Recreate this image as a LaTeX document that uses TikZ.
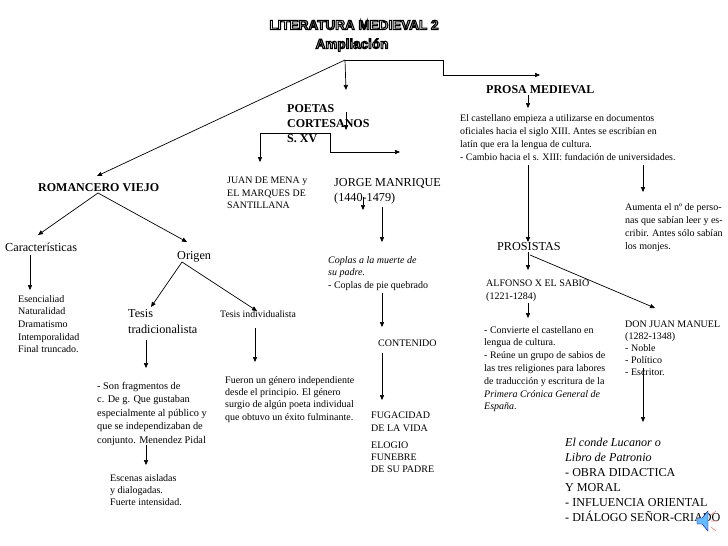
\documentclass[tikz,border=0pt]{standalone}
\usepackage{fontspec}
\setmainfont{Liberation Serif}
\newfontfamily\titlefont{Liberation Sans}
\usetikzlibrary{arrows.meta,calc}
\newcommand{\olw}[1]{\special{pdf:literal direct 1 g 0 G 1.1 w 2 Tr}#1\special{pdf:literal direct 0 g 0 Tr}}
\newcommand{\olg}[1]{\special{pdf:literal direct 0.72 g 0 G 1.1 w 2 Tr}#1\special{pdf:literal direct 0 g 0 Tr}}
\begin{document}
\begin{tikzpicture}[x=1pt,y=-1pt,
  arr/.style={-{Triangle[length=5pt,width=4.2pt]}, line width=0.7pt},
  txt/.style={anchor=north west, inner sep=0pt, align=left, font=\fontsize{10}{12.6}\selectfont},
  big/.style={anchor=north west, inner sep=0pt, align=left, font=\fontsize{12.2}{15}\selectfont},
  bigb/.style={big, font=\fontsize{12}{15}\selectfont\bfseries},
  ttl/.style={inner sep=0pt, font=\titlefont\bfseries\fontsize{13.5}{15}\selectfont}]
\useasboundingbox (0,0) rectangle (728,546);

% title
\node[ttl] (title) at (354,25) {\olw{LITE}\olg{RATU}\olw{RA }\olg{M}\olw{EDIEVAL 2}};
\node[ttl] (ampl) at (352,45) {\olw{Am}\olg{pli}\olw{ación}};

% texts
\node[bigb] (poetas) at (287,104) {POETAS\\CORTESANOS\\S. XV};
\node[bigb] (prosa) at (486,85) {PROSA MEDIEVAL};
\node[txt, font=\fontsize{9.9}{13}\selectfont] (prosapar) at (460,114) {El castellano empieza a utilizarse en documentos\\oficiales hacia el siglo XIII. Antes se escribían en\\latín que era la lengua de cultura.\\- Cambio hacia el s. XIII: fundación de universidades.};
\node[txt, font=\fontsize{9.9}{12.5}\selectfont] (juan) at (227,177) {JUAN DE MENA y\\EL MARQUES DE\\SANTILLANA};
\node[big] (jorge) at (334,178) {JORGE MANRIQUE\\(1440-1479)};
\node[bigb] (romancero) at (38,183) {ROMANCERO VIEJO};
\node[txt, font=\fontsize{10}{13}\selectfont] (aumenta) at (625,203) {Aumenta el nº de perso-\\nas que sabían leer y es-\\cribir. Antes sólo sabían\\los monjes.};
\node[big] (prosistas) at (497,242) {PROSISTAS};
\node[big] (carac) at (5,243) {Características};
\node[big] (origen) at (177,251) {Origen};
\node[txt, font=\fontsize{10}{12.5}\selectfont] (coplas) at (328,256) {\textit{Coplas a la muerte de}\\\textit{su padre.}\\- Coplas de pie quebrado};
\node[txt, font=\fontsize{10}{13}\selectfont] (alfonso) at (486,280) {ALFONSO X EL SABIO\\(1221-1284)};
\node[txt, font=\fontsize{10}{12.7}\selectfont] (esen) at (18,295) {Esencialiad\\Naturalidad\\Dramatismo\\Intemporalidad\\Final truncado.};
\node[big, font=\fontsize{12.2}{16}\selectfont] (tesist) at (128,309) {Tesis\\tradicionalista};
\node[txt, font=\fontsize{9.8}{12}\selectfont] (tesisi) at (220,310) {Tesis individualista};
\node[txt] (contenido) at (378,340) {CONTENIDO};
\node[txt, font=\fontsize{10}{12.8}\selectfont] (convierte) at (484,326) {- Convierte el castellano en\\lengua de cultura.\\- Reúne un grupo de sabios de\\las tres religiones para labores\\de traducción y escritura de la\\\textit{Primera Crónica General de}\\\textit{España}.};
\node[txt, font=\fontsize{10}{12}\selectfont] (donjuan) at (625,321) {DON JUAN MANUEL\\(1282-1348)\\- Noble\\- Político\\- Escritor.};
\node[txt, font=\fontsize{10.3}{13.5}\selectfont] (son) at (97,382) {- Son fragmentos de\\c. De g. Que gustaban\\especialmente al público y\\que se independizaban de\\conjunto. Menendez Pidal};
\node[txt, font=\fontsize{10}{12.3}\selectfont] (fueron) at (225,376) {Fueron un género independiente\\desde el principio. El género\\surgio de algún poeta individual\\que obtuvo un éxito fulminante.};
\node[txt, font=\fontsize{10}{12.5}\selectfont] (fugacidad) at (371,412) {FUGACIDAD\\DE LA VIDA};
\node[txt, font=\fontsize{10}{12}\selectfont] (elogio) at (371,442) {ELOGIO\\FUNEBRE\\DE SU PADRE};
\node[big, font=\fontsize{12.1}{15}\selectfont] (conde) at (565,438) {\textit{El conde Lucanor o}\\\textit{Libro de Patronio}\\- OBRA DIDACTICA\\Y MORAL\\- INFLUENCIA ORIENTAL\\- DIÁLOGO SEÑOR-CRIADO};
\node[txt, font=\fontsize{10}{12}\selectfont] (escenas) at (110,474) {Escenas aisladas\\y dialogadas.\\Fuerte intensidad.};

% connector points
\coordinate (hub) at (345,60);
\coordinate (h1) at (443,60);
\coordinate (h2) at (443,75);
\coordinate (prosaIn) at (540,75);
\coordinate (poetasIn) at (346,90);
\coordinate (romIn) at (97,176);
\coordinate (pa1) at (346,112);
\coordinate (pa2) at (346,130);
\coordinate (br) at (330,133);
\coordinate (bl) at (260,133);
\coordinate (juanIn) at (260,162);
\coordinate (br2) at (330,152);
\coordinate (jorgeIn) at (400,152);
\coordinate (pr1) at (528,95);
\coordinate (pr2) at (528,108);
\coordinate (pp1) at (528,165);
\coordinate (prosistasIn) at (528,242);
\coordinate (pp2) at (643,165);
\coordinate (aumentaIn) at (643,192);
\coordinate (ps1) at (528,252);
\coordinate (alfonsoIn) at (528,270);
\coordinate (ps2) at (530,255);
\coordinate (donjuanIn) at (655,308);
\coordinate (al1) at (528,303);
\coordinate (convIn) at (528,318);
\coordinate (dj1) at (643,368);
\coordinate (condeIn) at (643,422);
\coordinate (jm1) at (363,197);
\coordinate (jm2) at (363,210);
\coordinate (jm3) at (382,207);
\coordinate (coplasIn) at (382,242);
\coordinate (cp1) at (382,293);
\coordinate (contIn) at (382,327);
\coordinate (ct1) at (382,353);
\coordinate (fugIn) at (382,400);
\coordinate (rv) at (98,193);
\coordinate (caracIn) at (38,235);
\coordinate (origenIn) at (187,242);
\coordinate (ca1) at (30,255);
\coordinate (esenIn) at (30,290);
\coordinate (og) at (182,262);
\coordinate (tesistIn) at (151,307);
\coordinate (tesisiIn) at (257,311);
\coordinate (tt1) at (146,340);
\coordinate (sonIn) at (146,368);
\coordinate (ti1) at (255,328);
\coordinate (fueronIn) at (255,362);
\coordinate (sn1) at (146,445);
\coordinate (escIn) at (146,465);

% connectors
\draw[arr] (hub) -- (h1) -- (h2) -- (prosaIn);
\draw[arr] (hub) -- (poetasIn);
\draw[arr] (hub) -- (romIn);
\draw[arr] (pa1) -- (pa2);
\draw[arr] (br) -- (bl) -- (juanIn);
\draw[arr] (br) -- (br2) -- (jorgeIn);
\draw[arr] (pr1) -- (pr2);
\draw[arr] (pp1) -- (prosistasIn);
\draw[arr] (pp2) -- (aumentaIn);
\draw[arr] (ps1) -- (alfonsoIn);
\draw[arr] (ps2) -- (donjuanIn);
\draw[arr] (al1) -- (convIn);
\draw[arr] (dj1) -- (condeIn);
\draw[arr] (jm1) -- (jm2);
\draw[arr] (jm3) -- (coplasIn);
\draw[arr] (cp1) -- (contIn);
\draw[arr] (ct1) -- (fugIn);
\draw[arr] (rv) -- (caracIn);
\draw[arr] (rv) -- (origenIn);
\draw[arr] (ca1) -- (esenIn);
\draw[arr] (og) -- (tesistIn);
\draw[arr] (og) -- (tesisiIn);
\draw[arr] (tt1) -- (sonIn);
\draw[arr] (ti1) -- (fueronIn);
\draw[arr] (sn1) -- (escIn);

% sound icon
\coordinate (spk) at (703,521);
\fill[blue!45!cyan!60, draw=blue!60!black, line width=0.4pt] ($(spk)+(-6,-3)$) -- ($(spk)+(-1,-3)$) -- ($(spk)+(5,-10)$) -- ($(spk)+(5,10)$) -- ($(spk)+(-1,3)$) -- ($(spk)+(-6,3)$) -- cycle;
\draw[red!50, line width=0.6pt] ($(spk)+(8,-6)$) -- ($(spk)+(13,-10)$) ($(spk)+(8,0)$) -- ($(spk)+(14,0)$) ($(spk)+(8,6)$) -- ($(spk)+(13,10)$);
\end{tikzpicture}
\end{document}
